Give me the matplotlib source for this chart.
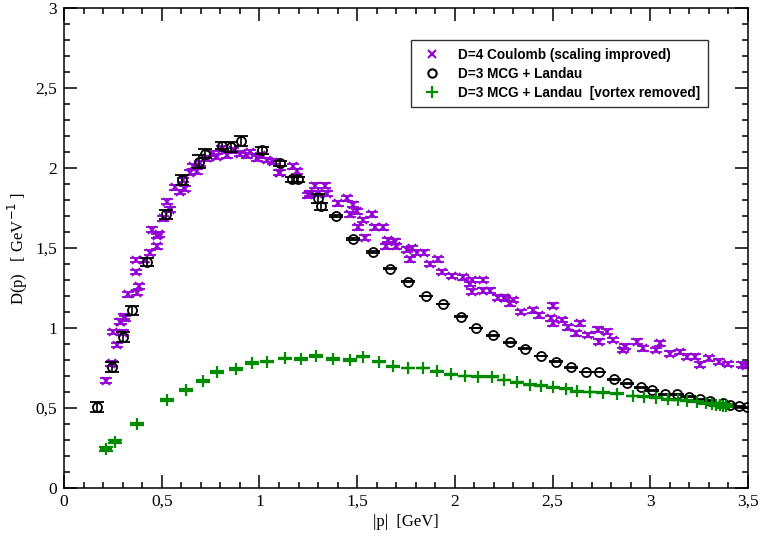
import matplotlib
matplotlib.use("Agg")
import matplotlib.pyplot as plt
from matplotlib.ticker import MultipleLocator, FuncFormatter
from matplotlib.lines import Line2D

# ---- data ----
# D=4 Coulomb (scaling improved)
coul_p = [0.213, 0.242, 0.244, 0.252, 0.273, 0.287, 0.292, 0.30, 0.309, 0.312, 0.326, 0.367, 0.367,
          0.372, 0.385, 0.411, 0.44, 0.449, 0.474, 0.477, 0.488, 0.508, 0.529, 0.542, 0.568, 0.594,
          0.611, 0.619, 0.645, 0.662, 0.679, 0.696, 0.73, 0.756, 0.781, 0.807, 0.833, 0.867, 0.90,
          0.935, 0.952, 0.986, 1.01, 1.037, 1.07, 1.10, 1.105, 1.17, 1.19, 1.25, 1.26, 1.285, 1.30,
          1.336, 1.344, 1.404, 1.447, 1.464, 1.48, 1.498, 1.506, 1.53, 1.54, 1.575, 1.59, 1.634,
          1.65, 1.66, 1.694, 1.70, 1.754, 1.77, 1.78, 1.805, 1.84, 1.873, 1.915, 1.933, 1.984,
          2.04, 2.078, 2.087, 2.087, 2.146, 2.146, 2.18, 2.22, 2.25, 2.257, 2.28, 2.30, 2.34, 2.40,
          2.43, 2.49, 2.50, 2.50, 2.55, 2.58, 2.62, 2.64, 2.68, 2.73, 2.74, 2.78, 2.81, 2.86, 2.87,
          2.93, 2.965, 3.03, 3.05, 3.10, 3.15, 3.19, 3.23, 3.255, 3.30, 3.35, 3.40, 3.47, 3.49]
coul_D = [0.67, 0.775, 0.78, 0.975, 0.894, 1.04, 1.04, 0.97, 1.07, 1.06, 1.21, 1.35, 1.425,
          1.22, 1.26, 1.425, 1.47, 1.615, 1.51, 1.575, 1.585, 1.685, 1.79, 1.74, 1.88, 1.85,
          1.925, 1.87, 1.97, 2.01, 1.98, 2.03, 2.06, 2.09, 2.07, 2.12, 2.08, 2.11, 2.09,
          2.08, 2.10, 2.06, 2.08, 2.05, 2.04, 1.97, 1.97, 2.01, 1.98, 1.83, 1.84, 1.89, 1.84,
          1.89, 1.84, 1.78, 1.81, 1.71, 1.77, 1.73, 1.63, 1.675, 1.565, 1.71, 1.63, 1.63,
          1.51, 1.55, 1.54, 1.51, 1.49, 1.43, 1.50, 1.47, 1.47, 1.40, 1.43, 1.35, 1.325,
          1.317, 1.275, 1.30, 1.227, 1.30, 1.233, 1.233, 1.19, 1.19, 1.186, 1.155, 1.175, 1.10, 1.11,
          1.08, 1.06, 1.14, 1.03, 1.05, 1.004, 0.967, 1.03, 0.956, 0.99, 0.915, 0.977, 0.925, 0.8625, 0.883,
          0.915, 0.873, 0.8625, 0.905, 0.84, 0.85, 0.82, 0.82, 0.77, 0.81, 0.79, 0.775, 0.77, 0.765]
coul_err = [0.015] * len(coul_p)

# D=3 MCG + Landau
mcg_p = [0.169, 0.246, 0.302, 0.348, 0.425, 0.522, 0.604, 0.69, 0.72, 0.81, 0.855, 0.906, 1.013,
         1.105, 1.167, 1.198, 1.30, 1.315, 1.39, 1.48, 1.58, 1.67, 1.76, 1.85, 1.94, 2.03, 2.11,
         2.195, 2.28, 2.36, 2.44, 2.52, 2.595, 2.67, 2.74, 2.815, 2.88, 2.95, 3.01, 3.075, 3.135,
         3.20, 3.255, 3.305, 3.37, 3.41, 3.455, 3.495]
mcg_D = [0.506, 0.756, 0.944, 1.11, 1.41, 1.71, 1.925, 2.04, 2.09, 2.14, 2.13, 2.17, 2.11,
         2.03, 1.93, 1.93, 1.81, 1.76, 1.70, 1.556, 1.475, 1.37, 1.29, 1.20, 1.15, 1.07, 1.00,
         0.956, 0.91, 0.87, 0.825, 0.79, 0.756, 0.725, 0.725, 0.68, 0.656, 0.63, 0.61, 0.585, 0.585,
         0.57, 0.556, 0.544, 0.53, 0.52, 0.51, 0.506]
mcg_err = [0.03, 0.03, 0.03, 0.03, 0.025, 0.03, 0.03, 0.04, 0.03, 0.02, 0.03, 0.03, 0.02,
           0.015, 0.015, 0.015, 0.03, 0.02, 0.005, 0.005, 0.004, 0.004, 0.004, 0.003, 0.003, 0.003, 0.003,
           0.003, 0.003, 0.003, 0.003, 0.003, 0.003, 0.003, 0.003, 0.003, 0.003, 0.003, 0.003, 0.003, 0.003,
           0.003, 0.003, 0.003, 0.003, 0.003, 0.003, 0.003]

# D=3 MCG + Landau [vortex removed]
vr_p = [0.215, 0.261, 0.374, 0.527, 0.624, 0.711, 0.783, 0.88, 0.962, 1.04, 1.13, 1.213, 1.29,
        1.377, 1.464, 1.53, 1.61, 1.684, 1.76, 1.837, 1.91, 1.98, 2.05, 2.12, 2.19, 2.25, 2.32,
        2.385, 2.44, 2.50, 2.57, 2.625, 2.69, 2.76, 2.83, 2.91, 2.97, 3.03, 3.09, 3.14, 3.19,
        3.24, 3.285, 3.316, 3.337, 3.357, 3.37, 3.385]
vr_D = [0.244, 0.29, 0.40, 0.55, 0.61, 0.67, 0.725, 0.744, 0.78, 0.79, 0.81, 0.806, 0.825,
        0.806, 0.80, 0.82, 0.79, 0.76, 0.75, 0.75, 0.73, 0.71, 0.70, 0.694, 0.694, 0.675, 0.66,
        0.644, 0.638, 0.63, 0.62, 0.606, 0.60, 0.594, 0.588, 0.575, 0.57, 0.563, 0.556, 0.55, 0.544,
        0.538, 0.53, 0.525, 0.52, 0.52, 0.51, 0.515]
vr_err = [0.01, 0.01, 0.008, 0.008, 0.006, 0.006, 0.005, 0.005, 0.005, 0.004, 0.004, 0.004, 0.004,
          0.004, 0.004, 0.004, 0.003, 0.003, 0.003, 0.003, 0.003, 0.003, 0.003, 0.003, 0.003, 0.003, 0.003,
          0.003, 0.003, 0.003, 0.003, 0.003, 0.003, 0.003, 0.003, 0.003, 0.003, 0.003, 0.003, 0.003, 0.003,
          0.003, 0.003, 0.003, 0.01, 0.01, 0.01, 0.01]

labels = ["D=4 Coulomb (scaling improved)", "D=3 MCG + Landau", "D=3 MCG + Landau  [vortex removed]"]

PURPLE = "#9400d3"
GREEN = "#008b00"

fig = plt.figure(figsize=(7.63, 5.37), dpi=100)
ax = fig.add_axes([64 / 763, 49 / 537, (748 - 64) / 763, (488 - 8) / 537])

ax.errorbar(coul_p, coul_D, yerr=coul_err, fmt="x", color=PURPLE, ms=6, mew=1.3,
            elinewidth=1.2, capsize=4.5, capthick=1.2, zorder=2)
ax.errorbar(mcg_p, mcg_D, yerr=mcg_err, fmt="o", mfc="none", mec="black", color="black", ms=6.5,
            mew=1.3, elinewidth=1.2, capsize=5, capthick=1.2, zorder=3)
ax.errorbar(vr_p, vr_D, yerr=vr_err, fmt="+", color=GREEN, ms=8, mew=1.6,
            elinewidth=1.2, capsize=5, capthick=1.4, zorder=4)

ax.set_xlim(0, 3.5)
ax.set_ylim(0, 3)
ax.xaxis.set_major_locator(MultipleLocator(0.5))
ax.xaxis.set_minor_locator(MultipleLocator(0.1))
ax.yaxis.set_major_locator(MultipleLocator(0.5))
ax.yaxis.set_minor_locator(MultipleLocator(0.1))

def fmt(v, pos):
    s = ("%g" % round(v, 2))
    return s.replace(".", ",")

ax.xaxis.set_major_formatter(FuncFormatter(fmt))
ax.yaxis.set_major_formatter(FuncFormatter(fmt))
ax.tick_params(which="both", direction="in", top=True, right=True, width=1.1)
ax.tick_params(which="major", length=9.5, labelsize=12.5)
ax.tick_params(axis="x", which="major", pad=4)
ax.tick_params(axis="y", which="major", pad=5)
ax.tick_params(which="minor", length=4.5)
for lab in ax.get_xticklabels() + ax.get_yticklabels():
    lab.set_family("Liberation Serif")
for s in ax.spines.values():
    s.set_linewidth(1.1)

ax.set_xlabel("|p|  [GeV]", family="Liberation Serif", fontsize=12, labelpad=3)
ax.set_ylabel("D(p)   [ GeV$^{-1}$ ]", family="Liberation Serif", fontsize=12, labelpad=4)

handles = [Line2D([], [], ls="none", marker="x", color=PURPLE, ms=6, mew=1.5),
           Line2D([], [], ls="none", marker="o", mfc="none", mec="black", ms=6, mew=1.5),
           Line2D([], [], ls="none", marker="+", color=GREEN, ms=8, mew=1.6)]
leg = ax.legend(handles, labels, loc="upper right", bbox_to_anchor=(0.9415, 0.9333),
                prop={"family": "Liberation Sans", "weight": "bold", "size": 9.8},
                frameon=True, fancybox=False, edgecolor="black", borderpad=0.55,
                handlelength=2.0, handletextpad=0.92, labelspacing=0.38, borderaxespad=0)
leg.get_frame().set_linewidth(1.0)

fig.savefig("out.png", dpi=100)
